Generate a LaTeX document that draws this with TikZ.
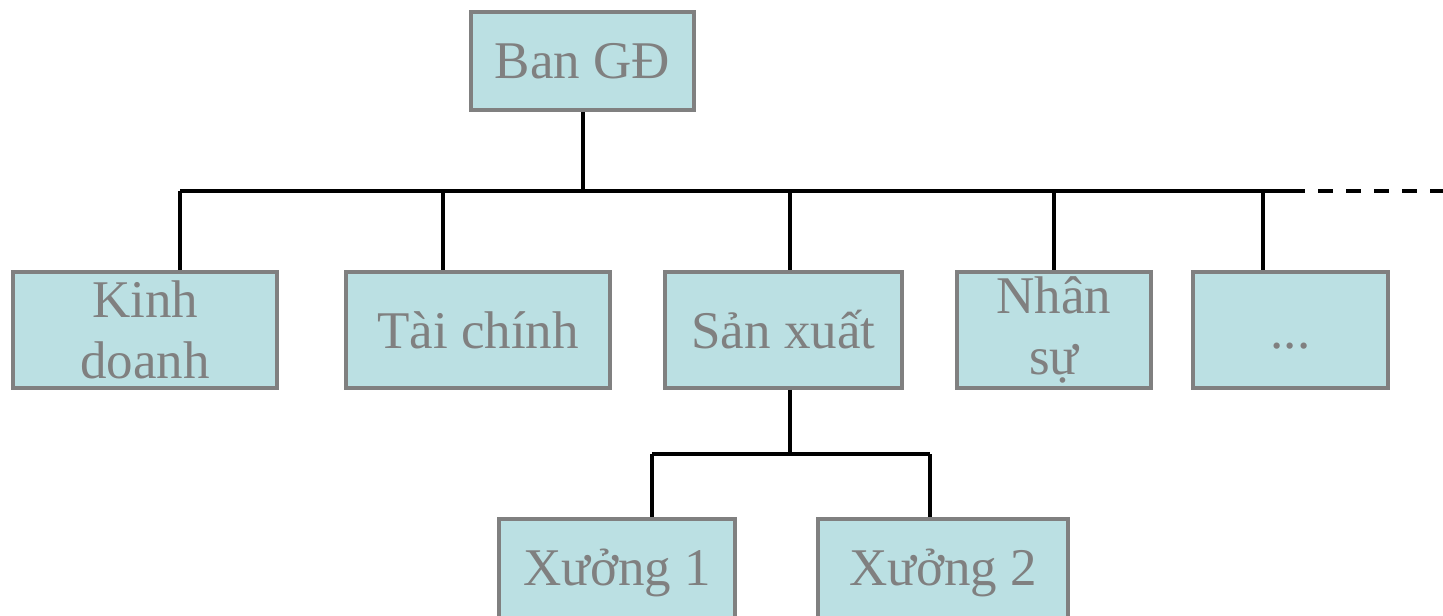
\documentclass[tikz,border=0pt]{standalone}
\usepackage{fontspec}
\setmainfont{Liberation Serif}
\usepackage{tikz}
\usepackage{xcolor}
\definecolor{boxfill}{RGB}{187,224,227}
\definecolor{boxline}{RGB}{128,128,128}

\begin{document}
\begin{tikzpicture}[x=0.5pt,y=-0.5pt,
        unit/.style={draw=boxline, line width=1.75pt, fill=boxfill, text=boxline,
                     align=center, inner sep=0pt, minimum height=58pt,
                     font=\fontsize{26.5}{30.5}\selectfont},
        link/.style={black, line width=2pt}]
        \useasboundingbox (0,0) rectangle (1443,615);
        \clip (0,0) rectangle (1443,615);
        % boxes
        \node [unit, minimum width=111.5pt, minimum height=49pt] (gd) at (582.5,61) {Ban GĐ};
        \node [unit, minimum width=132pt] (kd) at (145,330) {Kinh\\doanh};
        \node [unit, minimum width=132pt] (tc) at (478,330) {Tài chính};
        \node [unit, minimum width=118.5pt] (sx) at (783.5,330) {Sản xuất};
        \node [unit, minimum width=97pt] (ns) at (1054,330) {Nhân\\sự};
        \node [unit, minimum width=97.5pt] (etc) at (1290.5,330) {\vphantom{h}...};
        \node [unit, minimum width=118pt, minimum height=54pt] (xa) at (617,573) {Xưởng 1};
        \node [unit, minimum width=125pt, minimum height=54pt] (xb) at (943,573) {Xưởng 2};
        % bus points
        \coordinate (b1) at (180,191);
        \coordinate (b2) at (443,191);
        \coordinate (b3) at (790,191);
        \coordinate (b4) at (1054,191);
        \coordinate (b5) at (1263,191);
        \coordinate (bend) at (1305,191);
        \coordinate (bout) at (1443,191);
        \coordinate (s1) at (652,454);
        \coordinate (s2) at (930,454);
        % connectors
        \draw [link] (gd.south) -- (gd.south |- b1);
        \draw [link] (b1) -- (bend);
        \draw [link, dash pattern=on 7.5pt off 6.5pt, dash phase=7.5pt] (bend) -- (bout);
        \draw [link] (b1) -- (b1 |- kd.north);
        \draw [link] (b2) -- (b2 |- tc.north);
        \draw [link] (b3) -- (b3 |- sx.north);
        \draw [link] (b4) -- (b4 |- ns.north);
        \draw [link] (b5) -- (b5 |- etc.north);
        \draw [link] (b3 |- sx.south) -- (b3 |- s1);
        \draw [link] (s1) -- (s2);
        \draw [link] (s1) -- (s1 |- xa.north);
        \draw [link] (s2) -- (s2 |- xb.north);
\end{tikzpicture}
\end{document}
